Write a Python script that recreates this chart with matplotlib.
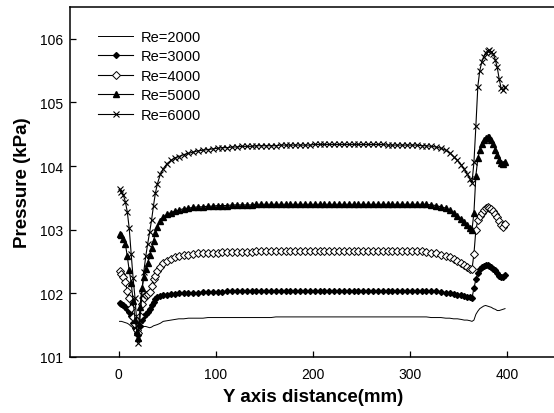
import matplotlib
matplotlib.use("Agg")
import matplotlib.pyplot as plt

plt.rcParams.update({
    "font.family": "Liberation Sans",
    "font.size": 10,
})

# ── Data ────────────────────────────────────────────────────────────────────
Y_DIST = [
    1, 3, 5, 7, 9, 11, 13, 15, 17, 19, 20, 22, 24, 26, 28, 30, 32, 34, 36, 38,
    40, 43, 46, 50, 54, 58,
    62, 67, 72, 77, 82, 87, 92, 97, 102, 107, 112, 117, 122, 127, 132, 137,
    142, 147, 152, 157, 162, 167, 172, 177, 182, 187, 192, 197, 202, 207,
    212, 217, 222, 227, 232, 237, 242, 247, 252, 257, 262, 267, 272, 277,
    282, 287, 292, 297, 302, 307, 312, 317, 322, 327, 332, 337,
    341, 345, 349, 353, 356, 359, 362, 364, 366, 368, 370, 372, 374, 376,
    378, 380, 382, 384, 386, 388, 390, 392, 394, 396, 398,
]

RE2000 = [
    101.56, 101.56, 101.55, 101.54, 101.53, 101.51, 101.48, 101.46, 101.43, 101.40,
    101.38, 101.42, 101.46, 101.48, 101.48, 101.47, 101.46, 101.47, 101.49, 101.50,
    101.51, 101.53, 101.56, 101.57, 101.58, 101.59,
    101.60, 101.60, 101.61, 101.61, 101.61, 101.61, 101.62, 101.62, 101.62, 101.62,
    101.62, 101.62, 101.62, 101.62, 101.62, 101.62, 101.62, 101.62, 101.62, 101.62,
    101.63, 101.63, 101.63, 101.63, 101.63, 101.63, 101.63, 101.63, 101.63, 101.63,
    101.63, 101.63, 101.63, 101.63, 101.63, 101.63, 101.63, 101.63, 101.63, 101.63,
    101.63, 101.63, 101.63, 101.63, 101.63, 101.63, 101.63, 101.63, 101.63, 101.63,
    101.63, 101.63, 101.62, 101.62, 101.62, 101.61,
    101.61, 101.60, 101.60, 101.59, 101.58, 101.58, 101.57, 101.56, 101.58, 101.67,
    101.72, 101.76, 101.78, 101.80, 101.81, 101.80, 101.79, 101.78, 101.76, 101.75,
    101.73, 101.73, 101.74, 101.75, 101.76,
]

RE3000 = [
    101.85, 101.84, 101.82, 101.79, 101.75, 101.71, 101.64, 101.53, 101.45, 101.38,
    101.35, 101.48, 101.58, 101.64, 101.67, 101.70, 101.75, 101.81, 101.87, 101.91,
    101.94, 101.96, 101.97, 101.98, 101.99, 101.99,
    102.00, 102.00, 102.01, 102.01, 102.01, 102.02, 102.02, 102.02, 102.02, 102.02,
    102.03, 102.03, 102.03, 102.03, 102.03, 102.03, 102.03, 102.03, 102.03, 102.03,
    102.04, 102.04, 102.04, 102.04, 102.04, 102.04, 102.04, 102.04, 102.04, 102.04,
    102.04, 102.04, 102.04, 102.04, 102.04, 102.04, 102.04, 102.04, 102.04, 102.04,
    102.04, 102.04, 102.04, 102.04, 102.04, 102.04, 102.04, 102.04, 102.04, 102.04,
    102.04, 102.04, 102.03, 102.03, 102.02, 102.01,
    102.00, 101.99, 101.98, 101.97, 101.96, 101.95, 101.94, 101.93, 102.08, 102.22,
    102.32, 102.38, 102.41, 102.43, 102.44, 102.44, 102.43, 102.41, 102.39, 102.36,
    102.32, 102.28, 102.26, 102.26, 102.29,
]

RE4000 = [
    102.35, 102.31, 102.25, 102.18, 102.03, 101.92, 101.77, 101.63, 101.52, 101.42,
    101.37, 101.65, 101.83, 101.93, 101.97, 101.99, 102.02, 102.12, 102.22, 102.28,
    102.35, 102.42, 102.47, 102.51, 102.54, 102.57,
    102.58, 102.60, 102.61, 102.62, 102.63, 102.63, 102.64, 102.64, 102.64, 102.65,
    102.65, 102.65, 102.65, 102.65, 102.65, 102.65, 102.66, 102.66, 102.66, 102.66,
    102.66, 102.66, 102.66, 102.66, 102.66, 102.66, 102.66, 102.66, 102.66, 102.66,
    102.66, 102.66, 102.66, 102.66, 102.66, 102.66, 102.66, 102.66, 102.66, 102.66,
    102.66, 102.66, 102.66, 102.66, 102.66, 102.66, 102.66, 102.66, 102.66, 102.66,
    102.66, 102.65, 102.64, 102.63, 102.61, 102.59,
    102.57, 102.54, 102.51, 102.48, 102.45, 102.42, 102.39, 102.38, 102.62, 103.00,
    103.15, 103.22, 103.27, 103.31, 103.34, 103.35, 103.34, 103.32, 103.30, 103.25,
    103.20, 103.14, 103.08, 103.05, 103.09,
]

RE5000 = [
    102.93, 102.91, 102.86, 102.78, 102.58, 102.36, 102.17, 101.88, 101.58, 101.40,
    101.30, 101.78, 102.08, 102.25, 102.38, 102.48, 102.60, 102.71, 102.83, 102.95,
    103.04, 103.14, 103.20, 103.24, 103.27, 103.29,
    103.31, 103.33, 103.34, 103.35, 103.36, 103.36, 103.37, 103.37, 103.38, 103.38,
    103.38, 103.39, 103.39, 103.39, 103.39, 103.39, 103.40, 103.40, 103.40, 103.40,
    103.40, 103.40, 103.40, 103.40, 103.40, 103.40, 103.40, 103.40, 103.40, 103.40,
    103.40, 103.40, 103.40, 103.40, 103.40, 103.40, 103.40, 103.40, 103.40, 103.40,
    103.40, 103.40, 103.40, 103.40, 103.40, 103.40, 103.40, 103.40, 103.40, 103.40,
    103.40, 103.40, 103.39, 103.38, 103.36, 103.34,
    103.31, 103.27, 103.22, 103.17, 103.12, 103.08, 103.03, 103.00, 103.27, 103.85,
    104.12, 104.25, 104.35, 104.41, 104.44, 104.45, 104.45, 104.41, 104.35, 104.26,
    104.17, 104.10, 104.05, 104.03, 104.06,
]

RE6000 = [
    103.64, 103.60, 103.54, 103.44, 103.28, 103.02, 102.62, 102.24, 101.92, 101.50,
    101.22, 101.58, 101.98, 102.34, 102.58, 102.78, 102.96, 103.15, 103.38, 103.58,
    103.72, 103.87, 103.96, 104.04, 104.09, 104.13,
    104.15, 104.18, 104.20, 104.22, 104.24, 104.25, 104.26, 104.27, 104.28, 104.29,
    104.29, 104.30, 104.30, 104.31, 104.31, 104.31, 104.32, 104.32, 104.32, 104.32,
    104.32, 104.33, 104.33, 104.33, 104.33, 104.33, 104.33, 104.33, 104.34, 104.34,
    104.34, 104.34, 104.34, 104.34, 104.34, 104.34, 104.34, 104.34, 104.34, 104.34,
    104.34, 104.34, 104.34, 104.33, 104.33, 104.33, 104.33, 104.33, 104.33, 104.33,
    104.32, 104.32, 104.31, 104.30, 104.28, 104.25,
    104.21, 104.15, 104.09, 104.02, 103.95, 103.88, 103.80, 103.74, 104.06, 104.63,
    105.25, 105.50, 105.63, 105.72, 105.78, 105.81, 105.82, 105.80, 105.76, 105.67,
    105.55, 105.37, 105.22, 105.19, 105.24,
]

LABELS = ["Re=2000", "Re=3000", "Re=4000", "Re=5000", "Re=6000"]
X_TICKS = [0, 100, 200, 300, 400]
Y_TICKS = [101, 102, 103, 104, 105, 106]

# ── Styles ──────────────────────────────────────────────────────────────────
STYLES = [
    dict(marker=None, lw=0.7),
    dict(marker="D", ms=3.0, mfc="black", mec="black", lw=0.8),
    dict(marker="D", ms=3.8, mfc="white", mec="black", mew=0.7, lw=0.8),
    dict(marker="^", ms=4.2, mfc="black", mec="black", lw=0.8),
    dict(marker="x", ms=4.0, mec="black", mew=0.8, lw=0.8),
]

fig = plt.figure(figsize=(5.54, 4.14), dpi=100)
ax = fig.add_axes([70 / 554, 56 / 414, 485.5 / 554, 350 / 414])

for ys, label, st in zip([RE2000, RE3000, RE4000, RE5000, RE6000], LABELS, STYLES):
    ax.plot(Y_DIST, ys, color="black", label=label, **st)

ax.set_xlim(-50, 450)
ax.set_ylim(101, 106.5)
ax.set_xticks(X_TICKS)
ax.set_yticks(Y_TICKS)
ax.tick_params(axis="both", direction="in", length=4, width=0.9, labelsize=10)
ax.tick_params(axis="x", pad=7)
ax.tick_params(axis="y", pad=5)
ax.spines["right"].set_visible(False)
for s in ("left", "bottom", "top"):
    ax.spines[s].set_linewidth(1.1)

ax.set_xlabel("Y axis distance(mm)", fontsize=13.5, fontweight="bold", labelpad=5)
ax.set_ylabel("Pressure (kPa)", fontsize=13.5, fontweight="bold", labelpad=6)

ax.legend(loc="upper left", bbox_to_anchor=(0.058, 0.935), frameon=False,
          fontsize=10.5, numpoints=1, handlelength=2.4, handletextpad=0.55,
          labelspacing=0.38, borderpad=0, borderaxespad=0)

fig.savefig("out.png", dpi=100)
